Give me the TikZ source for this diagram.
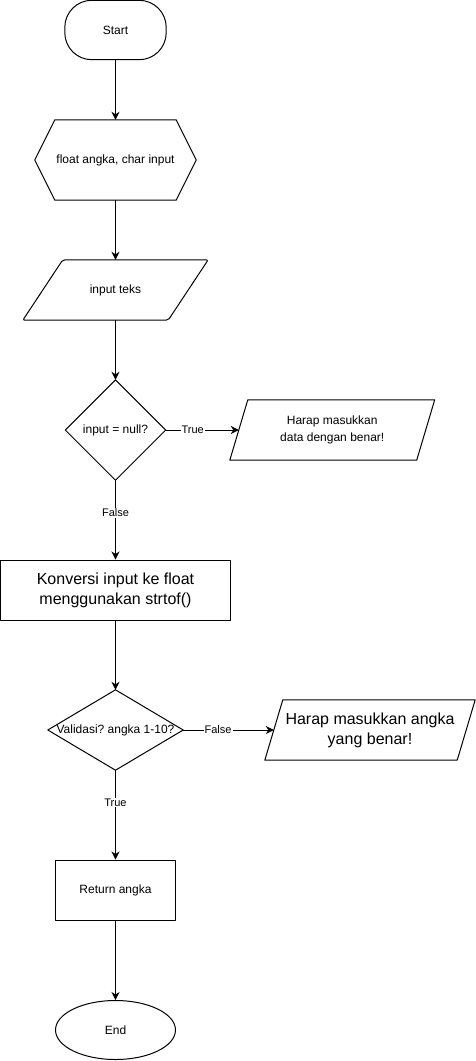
\documentclass[tikz,border=0pt]{standalone}
\usepackage{fontspec}
\setmainfont{Liberation Sans}
\frenchspacing
\usetikzlibrary{calc,arrows.meta,shapes.geometric}
\tikzset{
  box/.style={draw=none, inner sep=0pt, align=center, font=\fontsize{12}{16.5}\selectfont},
  big/.style={font=\fontsize{16}{20}\selectfont},
  outline/.style={draw=black, line width=1pt, line join=round},
  flow/.style={draw=black, line width=1pt, -{Stealth[length=8pt,width=8pt,inset=2.5pt]}},
  lbl/.style={fill=white, inner sep=1pt, font=\fontsize{11}{13}\selectfont},
}
\begin{document}
\begin{tikzpicture}[x=1pt,y=-1pt]
\useasboundingbox (0,0) rectangle (476,1061);

% Start
\node[box, minimum width=101, minimum height=59] (start) at (115.5,30) {Start};
\draw[outline, rounded corners=27] (start.north west) rectangle (start.south east);

% declaration hexagon
\node[box, minimum width=161, minimum height=80] (decl) at (115.5,160) {float angka, char input};
\draw[outline] (decl.west) -- ($(decl.north west)+(20,0)$) -- ($(decl.north east)+(-20,0)$)
  -- (decl.east) -- ($(decl.south east)+(-20,0)$) -- ($(decl.south west)+(20,0)$) -- cycle;

% input teks parallelogram
\node[box, minimum width=145, minimum height=60] (inp) at (115.5,290) {input teks};
\draw[outline, rounded corners=2] ($(inp.north west)+(20,0)$) -- ($(inp.north east)+(20,0)$)
  -- ($(inp.south east)+(-20,0)$) -- ($(inp.south west)+(-20,0)$) -- cycle;

% decision 1
\node[box, minimum width=100, minimum height=100] (d1) at (115.5,430) {input = null?};
\draw[outline] (d1.north) -- (d1.east) -- (d1.south) -- (d1.west) -- cycle;

% error 1
\node[box, minimum width=186.5, minimum height=60] (e1) at (332.25,430) {Harap masukkan\\data dengan benar!};
\draw[outline] ($(e1.north west)+(9,0)$) -- ($(e1.north east)+(9,0)$)
  -- ($(e1.south east)+(-9,0)$) -- ($(e1.south west)+(-9,0)$) -- cycle;

% conversion
\node[box, big, outline, minimum width=230, minimum height=60] (konv) at (115.5,590) {Konversi input ke float\\menggunakan strtof()};

% decision 2
\node[box, minimum width=135, minimum height=80] (d2) at (115.5,730) {Validasi? angka 1-10?};
\draw[outline] (d2.north) -- (d2.east) -- (d2.south) -- (d2.west) -- cycle;

% error 2
\node[box, big, minimum width=192, minimum height=60] (e2) at (370,730) {Harap masukkan angka\\yang benar!};
\draw[outline] ($(e2.north west)+(9,0)$) -- ($(e2.north east)+(9,0)$)
  -- ($(e2.south east)+(-9,0)$) -- ($(e2.south west)+(-9,0)$) -- cycle;

% return
\node[box, outline, minimum width=120, minimum height=60] (ret) at (115.5,890) {Return angka};

% end
\node[box, outline, ellipse, minimum width=120, minimum height=59] (stop) at (115.5,1030) {End};

% connectors
\draw[flow] (start.south) -- (decl.north);
\draw[flow] (decl.south) -- (inp.north);
\draw[flow] (inp.south) -- (d1.north);
\draw[flow] (d1.east) -- node[lbl, pos=0.37] {True} (e1.west);
\draw[flow] (d1.south) -- node[lbl, pos=0.41] {False} (konv.north);
\draw[flow] (konv.south) -- (d2.north);
\draw[flow] (d2.east) -- node[lbl, pos=0.385] {False} (e2.west);
\draw[flow] (d2.south) -- node[lbl, pos=0.36] {True} (ret.north);
\draw[flow] (ret.south) -- (stop.north);
\end{tikzpicture}
\end{document}
